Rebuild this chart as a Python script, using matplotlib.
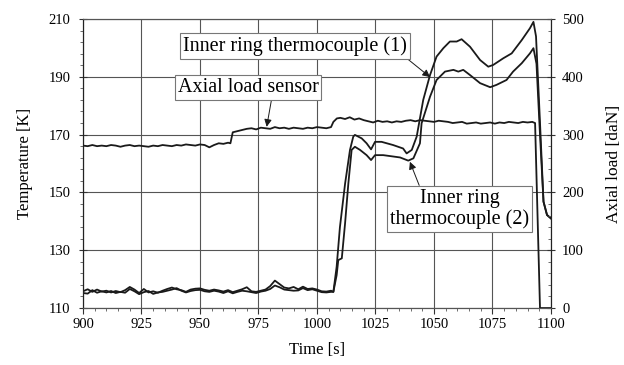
import matplotlib
matplotlib.use("Agg")
import matplotlib.pyplot as plt
from matplotlib.ticker import MultipleLocator

plt.rcParams["font.family"] = ["Liberation Serif", "DejaVu Serif"]

# === Datos ===
# Termopar anillo interior (1), temperatura [K]
t_tc1 = [900, 902, 904, 906, 908, 910, 912, 914, 916, 918, 920, 922, 924, 926, 928,
         930, 932, 934, 936, 938, 940, 942, 944, 946, 948, 950, 952, 954, 956, 958,
         960, 962, 964, 966, 968, 970, 972, 974, 976, 978, 980, 982, 984, 986, 988,
         990, 992, 994, 996, 998, 1000, 1002, 1004, 1006, 1007, 1008.4, 1009.8, 1012,
         1014.1, 1015.5, 1016.2, 1019.1, 1021.2, 1023.1, 1024.8, 1027.6, 1032.5,
         1036.8, 1038.3, 1040.5, 1042.6, 1045.4, 1048.3, 1051.1, 1054, 1056.8,
         1059.7, 1061.8, 1065.4, 1069.7, 1073.2, 1075.3, 1079.6, 1083.2, 1087.5,
         1091, 1092.5, 1093.6, 1095.2, 1096.8, 1098.3, 1100]
T_tc1 = [115.8, 116.5, 115.6, 116.4, 115.7, 116.0, 115.4, 115.9, 115.5, 116.2, 117.3,
         116.4, 115.2, 116.6, 115.4, 115.8, 115.3, 116.0, 116.6, 117.1, 116.5, 116.2,
         115.6, 116.4, 116.7, 116.8, 116.3, 116.0, 116.4, 116.1, 115.7, 116.2, 115.5,
         116.0, 116.5, 117.2, 115.8, 115.6, 116.0, 116.4, 117.6, 119.5, 118.3, 117.1,
         116.8, 117.3, 116.5, 117.4, 116.6, 116.8, 116.4, 115.8, 115.7, 116.0, 115.6,
         124.3, 138.0, 153.0, 164.7, 169.3, 169.9, 168.7, 167.0, 164.9, 167.5, 167.5,
         166.4, 165.2, 163.5, 164.7, 169.3, 182.0, 190.6, 197.0, 199.9, 202.2, 202.2,
         203.0, 200.4, 195.8, 193.5, 194.1, 196.4, 198.1, 202.7, 206.8, 209.0, 204.0,
         176.0, 146.8, 142.2, 141.0]

# Termopar anillo interior (2), temperatura [K]
t_tc2 = [900, 902, 904, 906, 908, 910, 912, 914, 916, 918, 920, 922, 924, 926, 928,
         930, 932, 934, 936, 938, 940, 942, 944, 946, 948, 950, 952, 954, 956, 958,
         960, 962, 964, 966, 968, 970, 972, 974, 976, 978, 980, 982, 984, 986, 988,
         990, 992, 994, 996, 998, 1000, 1002, 1004, 1006, 1007, 1008.4, 1009.1,
         1010.6, 1012, 1013.4, 1014.8, 1016.2, 1018.4, 1021.2, 1023.1, 1024.8,
         1028.3, 1035.5, 1039, 1041.2, 1044, 1044.7, 1048.3, 1051.1, 1054.7, 1058.3,
         1060.4, 1062.5, 1065.4, 1069.7, 1074, 1076.7, 1081, 1083.8, 1087.5, 1091,
         1092.5, 1093.8, 1095.3, 1096.8, 1098.3, 1100]
T_tc2 = [115.2, 115.0, 116.2, 115.3, 115.8, 115.4, 115.9, 115.2, 115.6, 115.3, 116.6,
         115.8, 114.8, 115.5, 115.9, 114.9, 115.4, 115.6, 116.0, 116.4, 116.9, 116.0,
         115.4, 115.9, 116.2, 116.3, 115.8, 115.6, 116.0, 115.7, 115.2, 115.8, 115.1,
         115.6, 116.0, 115.8, 115.5, 115.2, 115.7, 116.0, 116.6, 117.8, 117.2, 116.4,
         116.2, 116.0, 116.1, 116.9, 116.2, 116.5, 116.0, 115.5, 115.4, 115.6, 115.6,
         121.4, 126.6, 127.2, 139.3, 153.1, 164.7, 165.8, 164.7, 162.9, 161.2, 162.9,
         162.9, 162.1, 161.0, 161.8, 167.0, 173.9, 183.1, 188.9, 191.8, 192.4, 191.8,
         192.4, 190.6, 187.8, 186.4, 187.2, 188.9, 191.8, 194.7, 198.1, 199.9, 194.5,
         170.0, 146.8, 142.2, 141.0]

# Sensor de carga axial [daN]
t_load = [900, 902, 904, 906, 908, 910, 912, 914, 916, 918, 920, 922, 924, 926, 928,
          930, 932, 934, 936, 938, 940, 942, 944, 946, 948, 950, 952, 954, 956, 958,
          960, 962, 963, 964, 966, 968, 970, 972, 974, 976, 978, 980, 982, 984, 986,
          988, 990, 992, 994, 996, 998, 1000, 1002, 1004, 1006, 1007, 1008.5, 1010,
          1012, 1014, 1016, 1018, 1020, 1022, 1024, 1026, 1028, 1030, 1032, 1034,
          1036, 1038, 1040, 1042, 1044, 1046, 1048, 1050, 1052, 1054, 1056, 1058,
          1060, 1062, 1064, 1066, 1068, 1070, 1072, 1074, 1076, 1078, 1080, 1082,
          1084, 1086, 1088, 1090, 1092, 1093.2, 1095.3, 1100]
load = [281, 280, 282, 280, 281, 280, 282, 281, 279, 281, 282, 280, 281, 280, 279,
        281, 280, 282, 281, 280, 282, 281, 283, 282, 281, 283, 282, 278, 282, 285,
        284, 286, 285, 304, 306, 308, 310, 311, 309, 312, 311, 310, 313, 311, 312,
        310, 312, 311, 310, 312, 311, 313, 312, 311, 313, 322, 328, 329, 327, 330,
        326, 328, 325, 323, 321, 324, 322, 323, 321, 323, 322, 324, 325, 323, 325,
        324, 323, 322, 324, 323, 322, 320, 321, 322, 319, 320, 321, 319, 320, 321,
        319, 321, 320, 322, 321, 320, 322, 321, 322, 320, 0, 0]

# === Figura ===
fig = plt.figure(figsize=(6.24, 3.65), dpi=100)
ax = fig.add_axes([0.133, 0.156, 0.750, 0.792])
ax2 = ax.twinx()

linea = dict(color="#1a1a1a", lw=1.3)
ax.plot(t_tc1, T_tc1, **linea, zorder=3)
ax.plot(t_tc2, T_tc2, **linea, zorder=3)
ax2.plot(t_load, load, **linea, zorder=3)

ax.set_xlim(900, 1100)
ax.set_ylim(110, 210)
ax2.set_ylim(0, 500)

ax.xaxis.set_major_locator(MultipleLocator(25))
ax.xaxis.set_minor_locator(MultipleLocator(5))
ax.yaxis.set_major_locator(MultipleLocator(20, offset=10))
ax.yaxis.set_minor_locator(MultipleLocator(4, offset=2))
ax2.yaxis.set_major_locator(MultipleLocator(100))
ax2.yaxis.set_minor_locator(MultipleLocator(20))

ax.grid(True, which="major", color="#555555", lw=0.8)
ax.set_axisbelow(True)

for a in (ax, ax2):
    for s in a.spines.values():
        s.set_color("#555555")
        s.set_linewidth(0.8)
    a.spines["left"].set_color("#222222")
    a.spines["right"].set_color("#222222")

ax.tick_params(axis="both", which="major", labelsize=10.5, length=4, width=0.8,
               color="#333333", direction="out", pad=3)
ax.tick_params(axis="both", which="minor", length=2.5, width=0.6, color="#555555",
               direction="out")
ax.tick_params(axis="y", which="major", direction="inout", length=6, pad=6)
ax2.tick_params(axis="y", which="major", labelsize=10.5, length=6, width=0.8,
                color="#333333", direction="inout", pad=5)
ax2.tick_params(axis="y", which="minor", length=2.5, width=0.6, color="#555555",
                direction="in")

ax.set_xlabel("Time [s]", fontsize=12, labelpad=8)
ax.set_ylabel("Temperature [K]", fontsize=12, labelpad=11)
ax2.set_ylabel("Axial load [daN]", fontsize=12.5, labelpad=16)

# === Etiquetas con flecha ===
caja = dict(boxstyle="square,pad=0.15", fc="white", ec="#777777", lw=0.8)
flecha = dict(arrowstyle="-|>", color="#1a1a1a", lw=0.7, mutation_scale=11,
              shrinkA=0, shrinkB=0)

ax.annotate("Inner ring thermocouple (1)", xy=(1048.3, 189.9), xytext=(990.6, 200.7),
            ha="center", va="center", fontsize=14.5, bbox=caja, zorder=5,
            arrowprops=dict(flecha, relpos=(0.985, 0.0)))
ax.annotate("Axial load sensor", xy=(978.5, 172.7), xytext=(970.5, 186.2),
            ha="center", va="center", fontsize=14.5, bbox=caja, zorder=5,
            arrowprops=dict(flecha, relpos=(0.67, 0.0)))
ax.annotate("Inner ring\nthermocouple (2)", xy=(1039.7, 160.6), xytext=(1060.9, 144.3),
            ha="center", va="center", fontsize=14.5, bbox=caja, zorder=5,
            linespacing=1.1, arrowprops=dict(flecha, relpos=(0.22, 1.0)))

fig.savefig("out.png", dpi=100)
plt.close(fig)
